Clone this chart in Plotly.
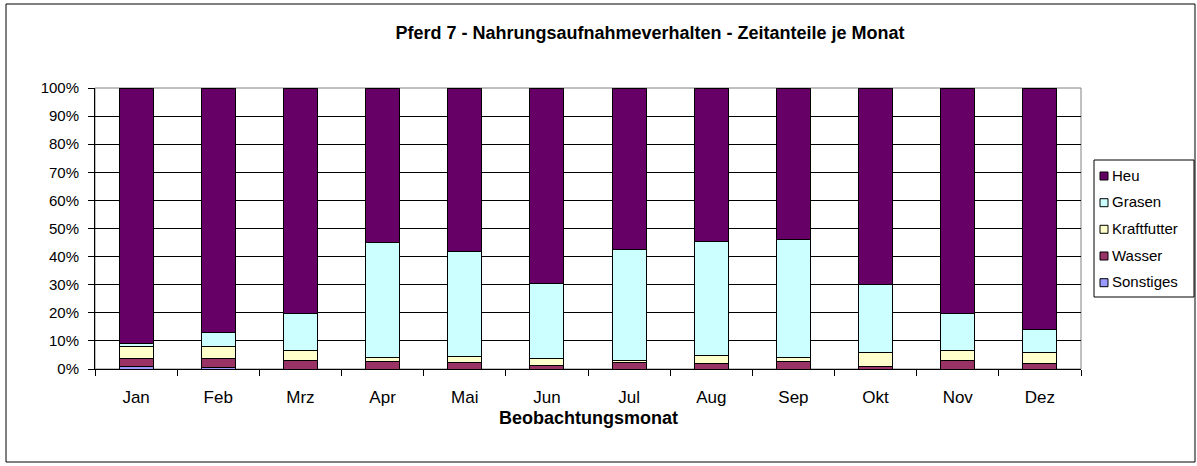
import plotly.graph_objects as go

months = ["Jan", "Feb", "Mrz", "Apr", "Mai", "Jun", "Jul", "Aug", "Sep", "Okt", "Nov", "Dez"]
sonstiges = [1.0, 0.6, 0.0, 0.0, 0.0, 0.0, 0.0, 0.0, 0.0, 0.0, 0.0, 0.0]
wasser = [2.9, 3.3, 2.9, 2.65, 2.2, 1.4, 2.2, 2.0, 2.65, 1.0, 2.9, 2.0]
kraftfutter = [4.1, 4.1, 3.8, 1.35, 2.1, 2.4, 0.7, 2.9, 1.35, 4.8, 3.8, 3.8]
grasen = [1.0, 5.0, 12.9, 40.9, 37.5, 26.8, 39.8, 40.6, 42.0, 24.3, 13.1, 8.2]
heu = [91.0, 87.0, 80.4, 55.1, 58.2, 69.4, 57.3, 54.5, 54.0, 69.9, 80.2, 86.0]

series = [
    ("Sonstiges", sonstiges, "#9999FF"),
    ("Wasser", wasser, "#993366"),
    ("Kraftfutter", kraftfutter, "#FFFFCC"),
    ("Grasen", grasen, "#CCFFFF"),
    ("Heu", heu, "#660066"),
]

FONT = "Liberation Sans, Arial, sans-serif"

fig = go.Figure()
for name, vals, col in series:
    fig.add_trace(go.Bar(
        x=months, y=[v / 100 for v in vals], name=name, showlegend=False,
        marker=dict(color=col, line=dict(color="black", width=1)),
    ))

W, H = 1197, 466
L, R, T, B = 95, 116, 88, 97
pw, ph = W - L - R, H - T - B

def px_x(x):
    return (x - L) / pw

def px_y(y):
    return (H - B - y) / ph

shapes = [
    dict(type="rect", xref="paper", yref="paper", x0=0, x1=1, y0=0, y1=1,
         line=dict(color="#808080", width=1), layer="below"),
    dict(type="rect", xref="paper", yref="paper", x0=px_x(6), x1=px_x(1195), y0=px_y(462), y1=px_y(4),
         line=dict(color="black", width=1), layer="below"),
    # legend box
    dict(type="rect", xref="paper", yref="paper", x0=px_x(1094), x1=px_x(1194), y0=px_y(297), y1=px_y(160),
         line=dict(color="black", width=1), fillcolor="white"),
]
annotations = [dict(text="<b>Beobachtungsmonat</b>", x=0.5, xref="paper", y=px_y(418), yref="paper",
                    xanchor="center", yanchor="middle", showarrow=False,
                    font=dict(family=FONT, size=18, color="black"))]

row_y = [175, 201.7, 228.3, 255, 281.7]
for (name, vals, col), ry in zip(series[::-1], row_y):
    shapes.append(dict(type="rect", xref="paper", yref="paper",
                       x0=px_x(1100), x1=px_x(1108), y0=px_y(ry + 5), y1=px_y(ry - 3),
                       line=dict(color="black", width=1), fillcolor=col))
    annotations.append(dict(text=name, x=px_x(1110), xref="paper", y=px_y(ry), yref="paper",
                            xanchor="left", yanchor="middle", showarrow=False,
                            font=dict(family=FONT, size=15, color="black")))

fig.update_layout(
    width=W, height=H,
    margin=dict(l=L, r=R, t=T, b=B, autoexpand=False),
    barmode="stack", bargap=0.586,
    paper_bgcolor="white", plot_bgcolor="white",
    font=dict(family=FONT, color="black", size=14),
    title=dict(text="<b>Pferd 7 - Nahrungsaufnahmeverhalten - Zeitanteile je Monat</b>",
               x=650 / W, xref="container", xanchor="center",
               y=1 - 33 / H, yref="container", yanchor="middle",
               font=dict(family=FONT, size=18, color="black")),
    showlegend=False,
    xaxis=dict(showline=True, linecolor="black", linewidth=1, ticks="outside", tickson="boundaries",
               ticklen=6, tickcolor="black", showgrid=False, ticklabelstandoff=13,
               tickfont=dict(family=FONT, size=17)),
    yaxis=dict(range=[0, 1], dtick=0.1, tickformat=".0%", showline=True, linecolor="black",
               linewidth=1, ticks="outside", ticklen=6, tickcolor="black", showgrid=True,
               gridcolor="black", gridwidth=1, zeroline=False, ticklabelstandoff=6,
               tickfont=dict(family=FONT, size=15)),
    annotations=annotations,
    shapes=shapes,
)

fig.write_html("out.html", config={"displayModeBar": False},
               post_script="document.body.style.margin='0';")
